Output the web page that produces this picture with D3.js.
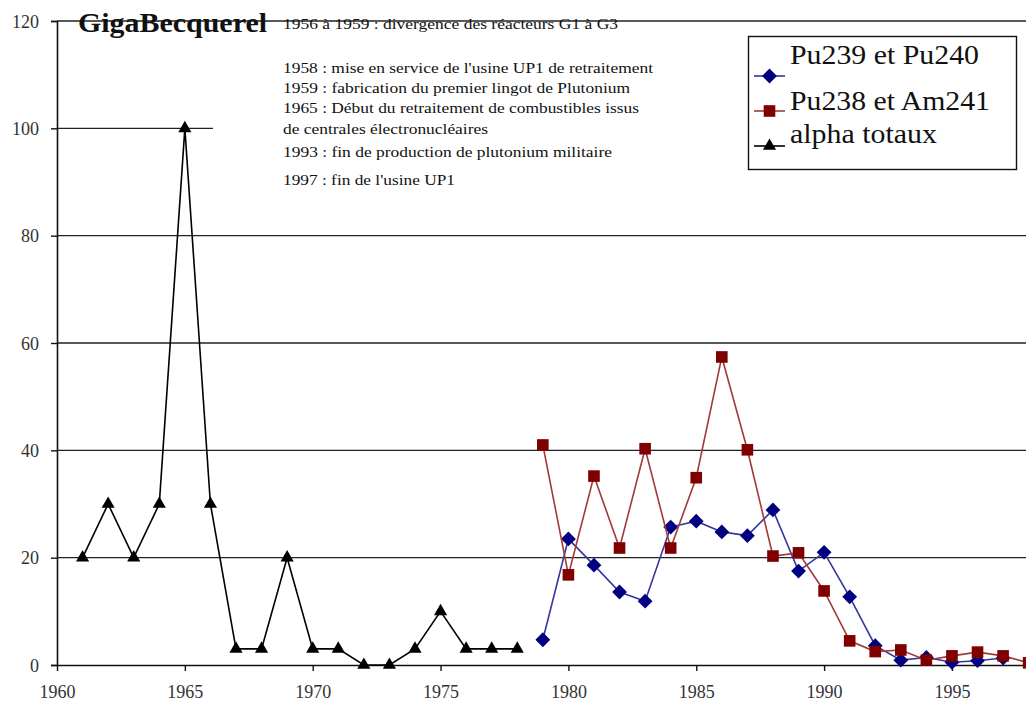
<!DOCTYPE html>
<html>
<head>
<meta charset="utf-8">
<script src="https://cdn.jsdelivr.net/npm/d3@7"></script>
<style>
  body { margin: 0; background: #fff; }
  svg { display: block; }
  svg text { font-family: "Liberation Serif", "Times New Roman", "DejaVu Serif", serif; }
</style>
</head>
<body>
<div id="chart"></div>
<script>
// years and values
var alphaYears = [1961, 1962, 1963, 1964, 1965, 1966, 1967, 1968, 1969, 1970, 1971, 1972, 1973, 1974, 1975, 1976, 1977, 1978];
var alphaValues = [20, 30, 20, 30, 100, 30, 3, 3, 20, 3, 3, 0, 0, 3, 10, 3, 3, 3];

var puYears = [1979, 1980, 1981, 1982, 1983, 1984, 1985, 1986, 1987, 1988, 1989, 1990, 1991, 1992, 1993, 1994, 1995, 1996, 1997];
var pu239Values = [4.7, 23.5, 18.6, 13.6, 11.9, 25.7, 26.8, 24.8, 24.1, 28.9, 17.5, 21, 12.7, 3.6, 0.9, 1.4, 0.5, 0.8, 1.3];

var amYears = [1979, 1980, 1981, 1982, 1983, 1984, 1985, 1986, 1987, 1988, 1989, 1990, 1991, 1992, 1993, 1994, 1995, 1996, 1997, 1998];
var pu238Values = [41, 16.8, 35.2, 21.8, 40.3, 21.8, 34.9, 57.4, 40.1, 20.3, 20.9, 13.8, 4.5, 2.5, 2.8, 0.9, 1.7, 2.4, 1.7, 0.4];

var yTicks = [0, 20, 40, 60, 80, 100, 120];
var xTicks = [1960, 1965, 1970, 1975, 1980, 1985, 1990, 1995];

var titleText = "GigaBecquerel";
var notes = [
  {text: "1956 à 1959 :  divergence des réacteurs G1 à G3", y: 29, w: 335, size: 14},
  {text: "1958 : mise en service de l'usine UP1 de retraitement", y: 73, w: 370, size: 15},
  {text: "1959 : fabrication du premier lingot de Plutonium", y: 93, w: 347, size: 15},
  {text: "1965 : Début du retraitement de combustibles issus", y: 113, w: 356, size: 15},
  {text: "de centrales électronucléaires", y: 134, w: 205, size: 15},
  {text: "1993 : fin de production de plutonium militaire", y: 157, w: 329, size: 15},
  {text: "1997 : fin de l'usine UP1", y: 185, w: 172, size: 15}
];

var series = [
  {name: "Pu239 et Pu240", years: puYears, values: pu239Values, line: "#3535a0", fill: "#000080", shape: d3.symbolDiamond2, size: 140, w: 189},
  {name: "Pu238 et Am241", years: amYears, values: pu238Values, line: "#a03a3a", fill: "#800000", shape: d3.symbolSquare, size: 135, w: 200},
  {name: "alpha totaux", years: alphaYears, values: alphaValues, line: "#000", fill: "#000", shape: d3.symbolTriangle, size: 75, w: 147}
];

var width = 1026, height = 706;
var serif = "'Liberation Serif', 'Times New Roman', serif";

var svg = d3.select("#chart").append("svg")
    .attr("width", width)
    .attr("height", height);

var x = d3.scaleLinear().domain([1960, 2000]).range([57, 57 + 40 * 25.57]);
var y = d3.scaleLinear().domain([0, 120]).range([665, 21]);

// gridlines
svg.append("g")
  .selectAll("line")
  .data(yTicks.filter(function(d) { return d > 0; }))
  .enter().append("line")
    .attr("x1", 57)
    .attr("x2", width)
    .attr("y1", function(d) { return y(d); })
    .attr("y2", function(d) { return y(d); })
    .attr("stroke", "#222")
    .attr("stroke-width", 1.4);

// white box behind the notes hides part of the gridlines
svg.append("rect")
  .attr("x", 213).attr("y", 27)
  .attr("width", width - 213).attr("height", 170)
  .attr("fill", "#fff");

// axes
var yAxis = svg.append("g")
  .attr("transform", "translate(57,0)")
  .call(d3.axisLeft(y).tickValues(yTicks).tickSize(6).tickPadding(12));

var xAxis = svg.append("g")
  .attr("transform", "translate(0," + y(0) + ")")
  .call(d3.axisBottom(x).tickValues(xTicks).tickSize(6).tickPadding(14).tickFormat(d3.format("d")));

[yAxis, xAxis].forEach(function(a) {
  a.attr("font-family", serif).attr("font-size", 18);
  a.select(".domain").attr("stroke", "#111").attr("stroke-width", 1.6);
  a.selectAll(".tick line").attr("stroke", "#111").attr("stroke-width", 1.4);
  a.selectAll("text").attr("fill", "#333");
});
yAxis.selectAll("text").attr("dy", "0.35em");
xAxis.select(".domain").attr("d", "M57,0.5H" + width);

// data lines
var line = d3.line()
  .x(function(d) { return x(d[0]); })
  .y(function(d) { return y(d[1]); });

series.forEach(function(s) {
  var pts = s.years.map(function(yr, i) { return [yr, s.values[i]]; });
  var g = svg.append("g");
  g.append("path")
    .datum(pts)
    .attr("fill", "none")
    .attr("stroke", s.line)
    .attr("stroke-width", 1.6)
    .attr("d", line);
  g.selectAll("path.pt")
    .data(pts)
    .enter().append("path")
      .attr("class", "pt")
      .attr("transform", function(d) { return "translate(" + x(d[0]) + "," + y(d[1]) + ")"; })
      .attr("d", d3.symbol().type(s.shape).size(s.size))
      .attr("fill", s.fill);
});

// title and notes
svg.append("text")
  .attr("x", 78).attr("y", 32)
  .attr("font-family", serif)
  .attr("font-size", 27)
  .attr("font-weight", "bold")
  .attr("textLength", 189)
  .attr("lengthAdjust", "spacingAndGlyphs")
  .attr("fill", "#111")
  .text(titleText);

svg.append("g")
  .attr("font-family", serif)
  .selectAll("text")
  .data(notes)
  .enter().append("text")
    .attr("x", 283)
    .attr("y", function(d) { return d.y; })
    .attr("font-size", function(d) { return d.size; })
    .attr("textLength", function(d) { return d.w; })
    .attr("lengthAdjust", "spacingAndGlyphs")
    .attr("fill", "#111")
    .text(function(d) { return d.text; });

// legend
var legend = svg.append("g").attr("font-family", serif);
legend.append("rect")
  .attr("x", 748.5).attr("y", 36.5)
  .attr("width", 268).attr("height", 133)
  .attr("fill", "#fff")
  .attr("stroke", "#111")
  .attr("stroke-width", 1.4);

var legendRows = [76, 111, 146];
var legendBase = [64, 110, 143];
series.forEach(function(s, i) {
  var ly = legendRows[i];
  legend.append("line")
    .attr("x1", 754).attr("x2", 785)
    .attr("y1", ly).attr("y2", ly)
    .attr("stroke", s.line)
    .attr("stroke-width", 1.6);
  legend.append("path")
    .attr("transform", "translate(769.5," + ly + ")")
    .attr("d", d3.symbol().type(s.shape).size(s.size))
    .attr("fill", s.fill);
  legend.append("text")
    .attr("x", 790).attr("y", legendBase[i])
    .attr("font-size", 27)
    .attr("textLength", s.w)
    .attr("lengthAdjust", "spacingAndGlyphs")
    .attr("fill", "#111")
    .text(s.name);
});
</script>
</body>
</html>
